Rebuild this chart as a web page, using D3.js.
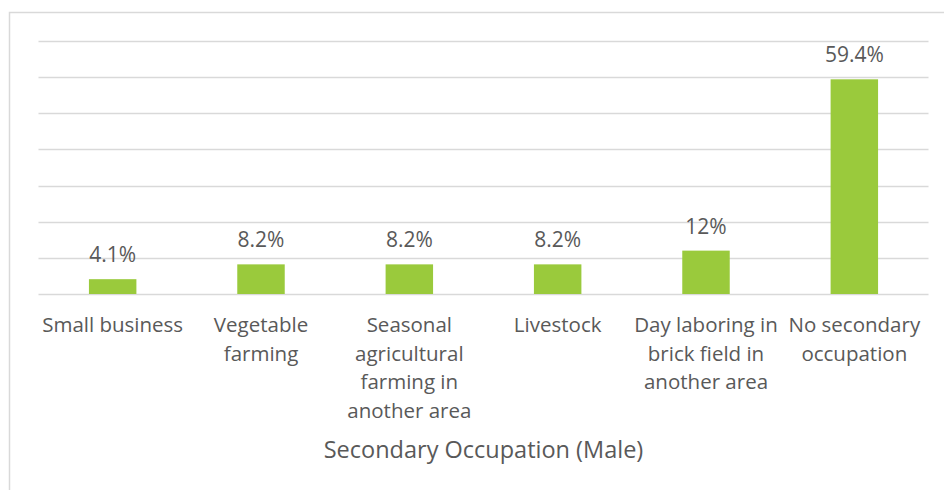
<!DOCTYPE html>
<html>
<head>
<meta charset="utf-8">
<script src="https://cdn.jsdelivr.net/npm/d3@7"></script>
<style>
  html, body { margin: 0; padding: 0; background: #fff; }
  svg { display: block; }
  text { font-family: "Open Sans", "Noto Sans", sans-serif; fill: #595959; }
</style>
</head>
<body>
<svg id="chart" width="944" height="490"></svg>
<script>
// Secondary occupation of male respondents, percent of respondents
const categories = [
  ["Small business"],
  ["Vegetable", "farming"],
  ["Seasonal", "agricultural", "farming in", "another area"],
  ["Livestock"],
  ["Day laboring in", "brick field in", "another area"],
  ["No secondary", "occupation"]
];
const values = [4.1, 8.2, 8.2, 8.2, 12, 59.4];
const valueLabels = ["4.1%", "8.2%", "8.2%", "8.2%", "12%", "59.4%"];
const gridTicks = [0, 10, 20, 30, 40, 50, 60, 70];
const axisTitle = "Secondary Occupation (Male)";

const svg = d3.select("#chart");
const W = 944, H = 490;
const plot = { left: 38.5, right: 928.5, top: 41, bottom: 294 };

// chart area frame (only top and left edges fall inside the view)
svg.append("rect")
  .attr("x", 9.5).attr("y", 12.5)
  .attr("width", W).attr("height", H)
  .attr("fill", "#fff")
  .attr("stroke", "#d9d9d9")
  .attr("stroke-width", 1.5);

const keys = categories.map((c, i) => i);
const x = d3.scaleBand()
  .domain(keys)
  .range([plot.left, plot.right])
  .paddingInner(0.68)
  .paddingOuter(0.34);

const y = d3.scaleLinear()
  .domain([0, 70])
  .range([plot.bottom, plot.top]);

// horizontal gridlines
svg.append("g")
  .selectAll("line")
  .data(gridTicks)
  .join("line")
  .attr("x1", plot.left).attr("x2", plot.right)
  .attr("y1", d => Math.round(y(d)) + 0.5)
  .attr("y2", d => Math.round(y(d)) + 0.5)
  .attr("stroke", "#d9d9d9")
  .attr("stroke-width", 1.5);

// bars
svg.append("g")
  .selectAll("rect")
  .data(values)
  .join("rect")
  .attr("x", (d, i) => x(i))
  .attr("width", x.bandwidth())
  .attr("y", d => y(d))
  .attr("height", d => y(0) - y(d))
  .attr("fill", "#9aca3c");

// value labels above bars
svg.append("g")
  .selectAll("text")
  .data(values)
  .join("text")
  .attr("x", (d, i) => x(i) + x.bandwidth() / 2)
  .attr("y", d => y(d) - 17)
  .attr("text-anchor", "middle")
  .attr("font-size", 21)
  .text((d, i) => valueLabels[i]);

// category labels (wrapped lines)
const catG = svg.append("g");
categories.forEach((lines, i) => {
  const t = catG.append("text")
    .attr("text-anchor", "middle")
    .attr("font-size", 20.5);
  lines.forEach((ln, j) => {
    t.append("tspan")
      .attr("x", x(i) + x.bandwidth() / 2)
      .attr("y", 332 + j * 28.5)
      .text(ln);
  });
});

// axis title
svg.append("text")
  .attr("x", (plot.left + plot.right) / 2)
  .attr("y", 458)
  .attr("text-anchor", "middle")
  .attr("font-size", 23.5)
  .text(axisTitle);
</script>
</body>
</html>
